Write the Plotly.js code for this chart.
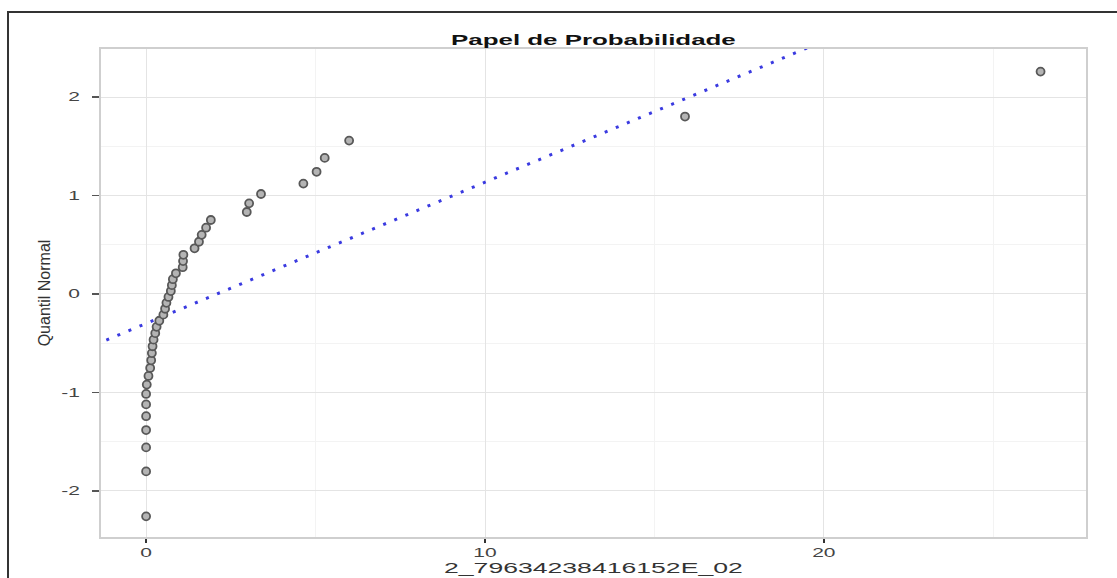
<!DOCTYPE html>
<html>
<head>
<meta charset="utf-8">
<script src="https://cdn.plot.ly/plotly-3.0.1.min.js"></script>
<style>
html,body{margin:0;padding:0;background:#fff;}
#chart{width:1117px;height:578px;}
</style>
</head>
<body>
<div id="chart"></div>
<script>
// Sample values (sorted)
var sampleValues = [0.00, 0.00, 0.00, 0.00, 0.00, 0.00, 0.00, 0.02, 0.07, 0.12,
  0.15, 0.17, 0.19, 0.22, 0.27, 0.31, 0.39, 0.51, 0.56, 0.60,
  0.66, 0.73, 0.76, 0.79, 0.88, 1.08, 1.09, 1.10, 1.43, 1.56,
  1.64, 1.77, 1.91, 2.97, 3.04, 3.39, 4.64, 5.03, 5.27, 5.99,
  15.9, 26.39];
// Normal quantiles of the plotting positions
var normalQuantiles = [-2.260, -1.803, -1.559, -1.383, -1.242, -1.122, -1.016, -0.921, -0.833, -0.752,
  -0.674, -0.601, -0.531, -0.464, -0.398, -0.334, -0.272, -0.210, -0.150, -0.090,
  -0.030, 0.030, 0.090, 0.150, 0.210, 0.272, 0.334, 0.398, 0.464, 0.531,
  0.601, 0.674, 0.752, 0.833, 0.921, 1.016, 1.122, 1.242, 1.383, 1.559,
  1.803, 2.260];
// Reference line
var refLineX = [-1.5, 20.0];
var refIntercept = -0.30;
var refSlope = 0.1436;
var refLineY = refLineX.map(function(x){ return refIntercept + refSlope * x; });

var xTickVals = [0, 10, 20];
var xTickText = ['0', '10', '20'];
var yTickVals = [-2, -1, 0, 1, 2];
var yTickText = ['-2', '-1', '0', '1', '2'];

var traces = [
  {
    x: refLineX, y: refLineY, type: 'scatter', mode: 'lines',
    line: {color: '#3a3ae0', width: 3, dash: '3px,9px'},
    hoverinfo: 'skip', showlegend: false
  },
  {
    x: sampleValues, y: normalQuantiles, type: 'scatter', mode: 'markers',
    marker: {symbol: 'circle', size: 8, color: '#b4b4b4', line: {color: '#585858', width: 1.8}},
    showlegend: false
  }
];

var fontFam = '"Liberation Sans", Arial, sans-serif';
var layout = {
  width: 1117, height: 578,
  margin: {l: 100, r: 30, t: 48, b: 40},
  paper_bgcolor: '#ffffff', plot_bgcolor: '#ffffff',
  font: {family: fontFam, color: '#333333', size: 13},
  title: {text: '<b>Papel de Probabilidade</b>', font: {family: fontFam, size: 14, color: '#111111'},
          x: 0.5, xref: 'paper', xanchor: 'center', y: 1, yref: 'paper', yanchor: 'bottom', pad: {b: 3}},
  xaxis: {
    range: [-1.36, 27.76], tickvals: xTickVals, ticktext: xTickText, ticks: 'outside', ticklen: 4, tickwidth: 1.5, tickcolor: '#333',
    showgrid: true, gridcolor: '#e4e4e4', gridwidth: 1,
    minor: {dtick: 5, tick0: 0, showgrid: true, gridcolor: '#f3f3f3', gridwidth: 1, ticks: ''},
    zeroline: false, showline: false,
    tickfont: {size: 12, color: '#444'},
    title: {text: '2_79634238416152E_02', font: {size: 14, color: '#333'}, standoff: 3}
  },
  yaxis: {
    range: [-2.48, 2.50], tickvals: yTickVals, ticktext: yTickText, ticks: 'outside', ticklen: 7, tickwidth: 1.5, tickcolor: '#555',
    ticklabelstandoff: 9,
    showgrid: true, gridcolor: '#e4e4e4', gridwidth: 1,
    minor: {dtick: 0.5, tick0: 0, showgrid: true, gridcolor: '#f3f3f3', gridwidth: 1, ticks: ''},
    zeroline: false, showline: true, linecolor: '#999999', linewidth: 1.5,
    tickfont: {size: 12, color: '#444'},
    title: {text: 'Quantil Normal', font: {family: fontFam, size: 16, color: '#333'}, standoff: 15}
  },
  shapes: [
    {type: 'rect', xref: 'paper', yref: 'paper', x0: 0, x1: 1, y0: 0, y1: 1,
     line: {color: '#cfcfcf', width: 2}, layer: 'above'},
    {type: 'rect', xref: 'paper', yref: 'paper', x0: -0.0932, x1: 1.2, y0: -0.3, y1: 1.0735,
     line: {color: '#333333', width: 2}, layer: 'below'}
  ]
};

// horizontally widen text the way the reference rendering does
function stretchText(root, selector, factor, anchor) {
  var nodes = root.querySelectorAll(selector);
  nodes.forEach(function(t) {
    var ns = 'http://www.w3.org/2000/svg';
    var g = document.createElementNS(ns, 'g');
    t.parentNode.insertBefore(g, t);
    g.appendChild(t);
    var b = g.getBBox();
    var cx = anchor === 'end' ? b.x + b.width : b.x + b.width / 2;
    g.setAttribute('transform', 'translate(' + cx + ',0) scale(' + factor + ',1) translate(' + (-cx) + ',0)');
  });
}

Plotly.newPlot('chart', traces, layout, {displayModeBar: false, staticPlot: true}).then(function(gd) {
  stretchText(gd, '.g-gtitle text', 1.85, 'middle');
  stretchText(gd, '.g-xtitle text', 1.9, 'middle');
  stretchText(gd, '.xtick text', 1.75, 'middle');
  stretchText(gd, '.ytick text', 1.75, 'end');
});
</script>
</body>
</html>
